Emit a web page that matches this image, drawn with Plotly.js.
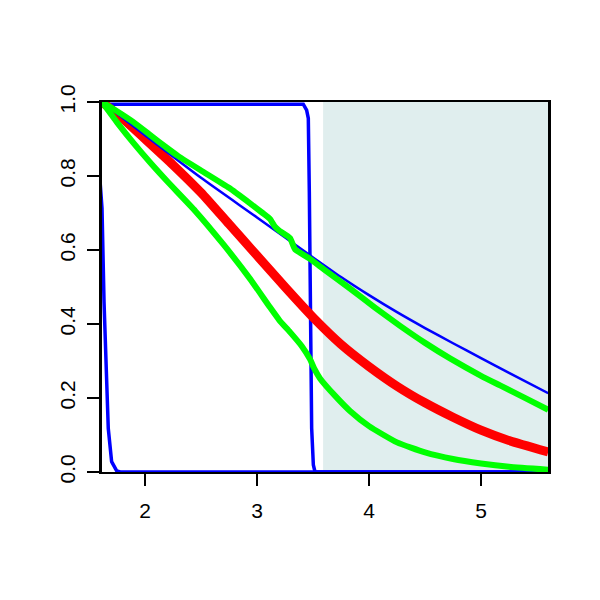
<!DOCTYPE html>
<html>
<head>
<meta charset="utf-8">
<script src="https://cdn.plot.ly/plotly-3.0.1.min.js"></script>
<style>html,body{margin:0;padding:0;background:#fff;}#plot{width:600px;height:600px;}</style>
</head>
<body>
<div id="plot"></div>
<script>
// Data
const thinX = [1.616, 2.0, 2.5, 3.0, 3.5, 3.75, 4.0, 4.25, 4.5, 4.75, 5.0, 5.25, 5.6];
const thinY = [1.0, 0.91, 0.795, 0.688, 0.58, 0.527, 0.478, 0.432, 0.389, 0.348, 0.308, 0.268, 0.213];

const redX = [1.616, 1.8, 2.0, 2.25, 2.5, 2.75, 3.0, 3.25, 3.5, 3.75, 4.0, 4.25, 4.5, 4.75, 5.0, 5.25, 5.6];
const redY = [1.0, 0.955, 0.9, 0.83, 0.755, 0.67, 0.585, 0.50, 0.418, 0.345, 0.285, 0.232, 0.187, 0.148, 0.113, 0.085, 0.054];

const greenUpX = [1.616, 1.75, 1.9, 2.05, 2.2, 2.3, 2.5, 2.75, 2.938, 3.05, 3.116, 3.16, 3.2, 3.295, 3.339, 3.473, 3.6, 3.83, 4.05, 4.277, 4.5, 4.723, 5.0, 5.17, 5.4, 5.6];
const greenUpY = [1.0, 0.975, 0.945, 0.91, 0.875, 0.853, 0.815, 0.768, 0.726, 0.70, 0.684, 0.663, 0.652, 0.632, 0.602, 0.576, 0.547, 0.496, 0.445, 0.395, 0.349, 0.307, 0.26, 0.234, 0.199, 0.168];

const greenLoX = [1.616, 1.75, 1.9, 2.05, 2.2, 2.45, 2.7, 2.938, 3.116, 3.2, 3.295, 3.4, 3.473, 3.51, 3.5625, 3.7, 3.83, 4.0, 4.25, 4.5, 4.75, 5.0, 5.25, 5.6];
const greenLoY = [1.0, 0.945, 0.888, 0.835, 0.785, 0.705, 0.615, 0.522, 0.445, 0.41, 0.378, 0.34, 0.305, 0.28, 0.253, 0.205, 0.165, 0.124, 0.080, 0.053, 0.035, 0.023, 0.014, 0.006];

const step1X = [1.60, 1.616, 1.634, 1.658, 1.672, 1.702, 1.747, 1.78, 5.6];
const step1Y = [0.78, 0.713, 0.46, 0.208, 0.118, 0.028, 0.003, 0, 0];

const step2X = [1.60, 3.413, 3.443, 3.458, 3.467, 3.473, 3.479, 3.488, 3.503, 3.518, 5.6];
const step2Y = [0.994, 0.994, 0.978, 0.956, 0.758, 0.568, 0.343, 0.118, 0.019, 0, 0];

const shadeStart = 3.59;
const xTicks = [2, 3, 4, 5];
const xTickText = ['2', '3', '4', '5'];
const yTicks = [0, 0.2, 0.4, 0.6, 0.8, 1.0];
const yTickText = ['0.0', '0.2', '0.4', '0.6', '0.8', '1.0'];

const BLUE = '#0000FF', RED = '#FF0000', GREEN = '#00FF00';

const traces = [
  {x: step1X, y: step1Y, mode: 'lines', line: {color: BLUE, width: 3.5}},
  {x: step2X, y: step2Y, mode: 'lines', line: {color: BLUE, width: 3.5}},
  {x: redX, y: redY, mode: 'lines', line: {color: RED, width: 9, shape: 'spline', smoothing: 0.6}},
  {x: thinX, y: thinY, mode: 'lines', line: {color: BLUE, width: 2.5, shape: 'spline', smoothing: 0.6}},
  {x: greenUpX, y: greenUpY, mode: 'lines', line: {color: GREEN, width: 6, shape: 'spline', smoothing: 0.4}},
  {x: greenLoX, y: greenLoY, mode: 'lines', line: {color: GREEN, width: 6, shape: 'spline', smoothing: 0.5}}
];

const axisCommon = {
  showgrid: false, zeroline: false, showline: true, mirror: true,
  linecolor: '#000', linewidth: 2,
  ticks: 'outside', ticklen: 12, tickwidth: 2, tickcolor: '#000',
  tickfont: {family: 'Liberation Sans, Arial, sans-serif', size: 21, color: '#000'}
};

const layout = {
  width: 600, height: 600,
  margin: {l: 102, r: 52, t: 102, b: 128},
  paper_bgcolor: '#fff', plot_bgcolor: '#fff',
  showlegend: false,
  xaxis: Object.assign({}, axisCommon, {range: [1.616, 5.598], tickvals: xTicks, ticktext: xTickText, ticklabelstandoff: 7}),
  yaxis: Object.assign({}, axisCommon, {range: [0, 1], tickvals: yTicks, ticktext: yTickText, tickangle: -90, ticklabelstandoff: 4, linewidth: 3}),
  shapes: [{
    type: 'rect', layer: 'below', xref: 'x', yref: 'paper',
    x0: shadeStart, x1: 5.598, y0: 0, y1: 1,
    fillcolor: '#E0EEEE', line: {width: 0}
  }]
};

Plotly.newPlot('plot', traces, layout, {staticPlot: true, displayModeBar: false});
</script>
</body>
</html>
